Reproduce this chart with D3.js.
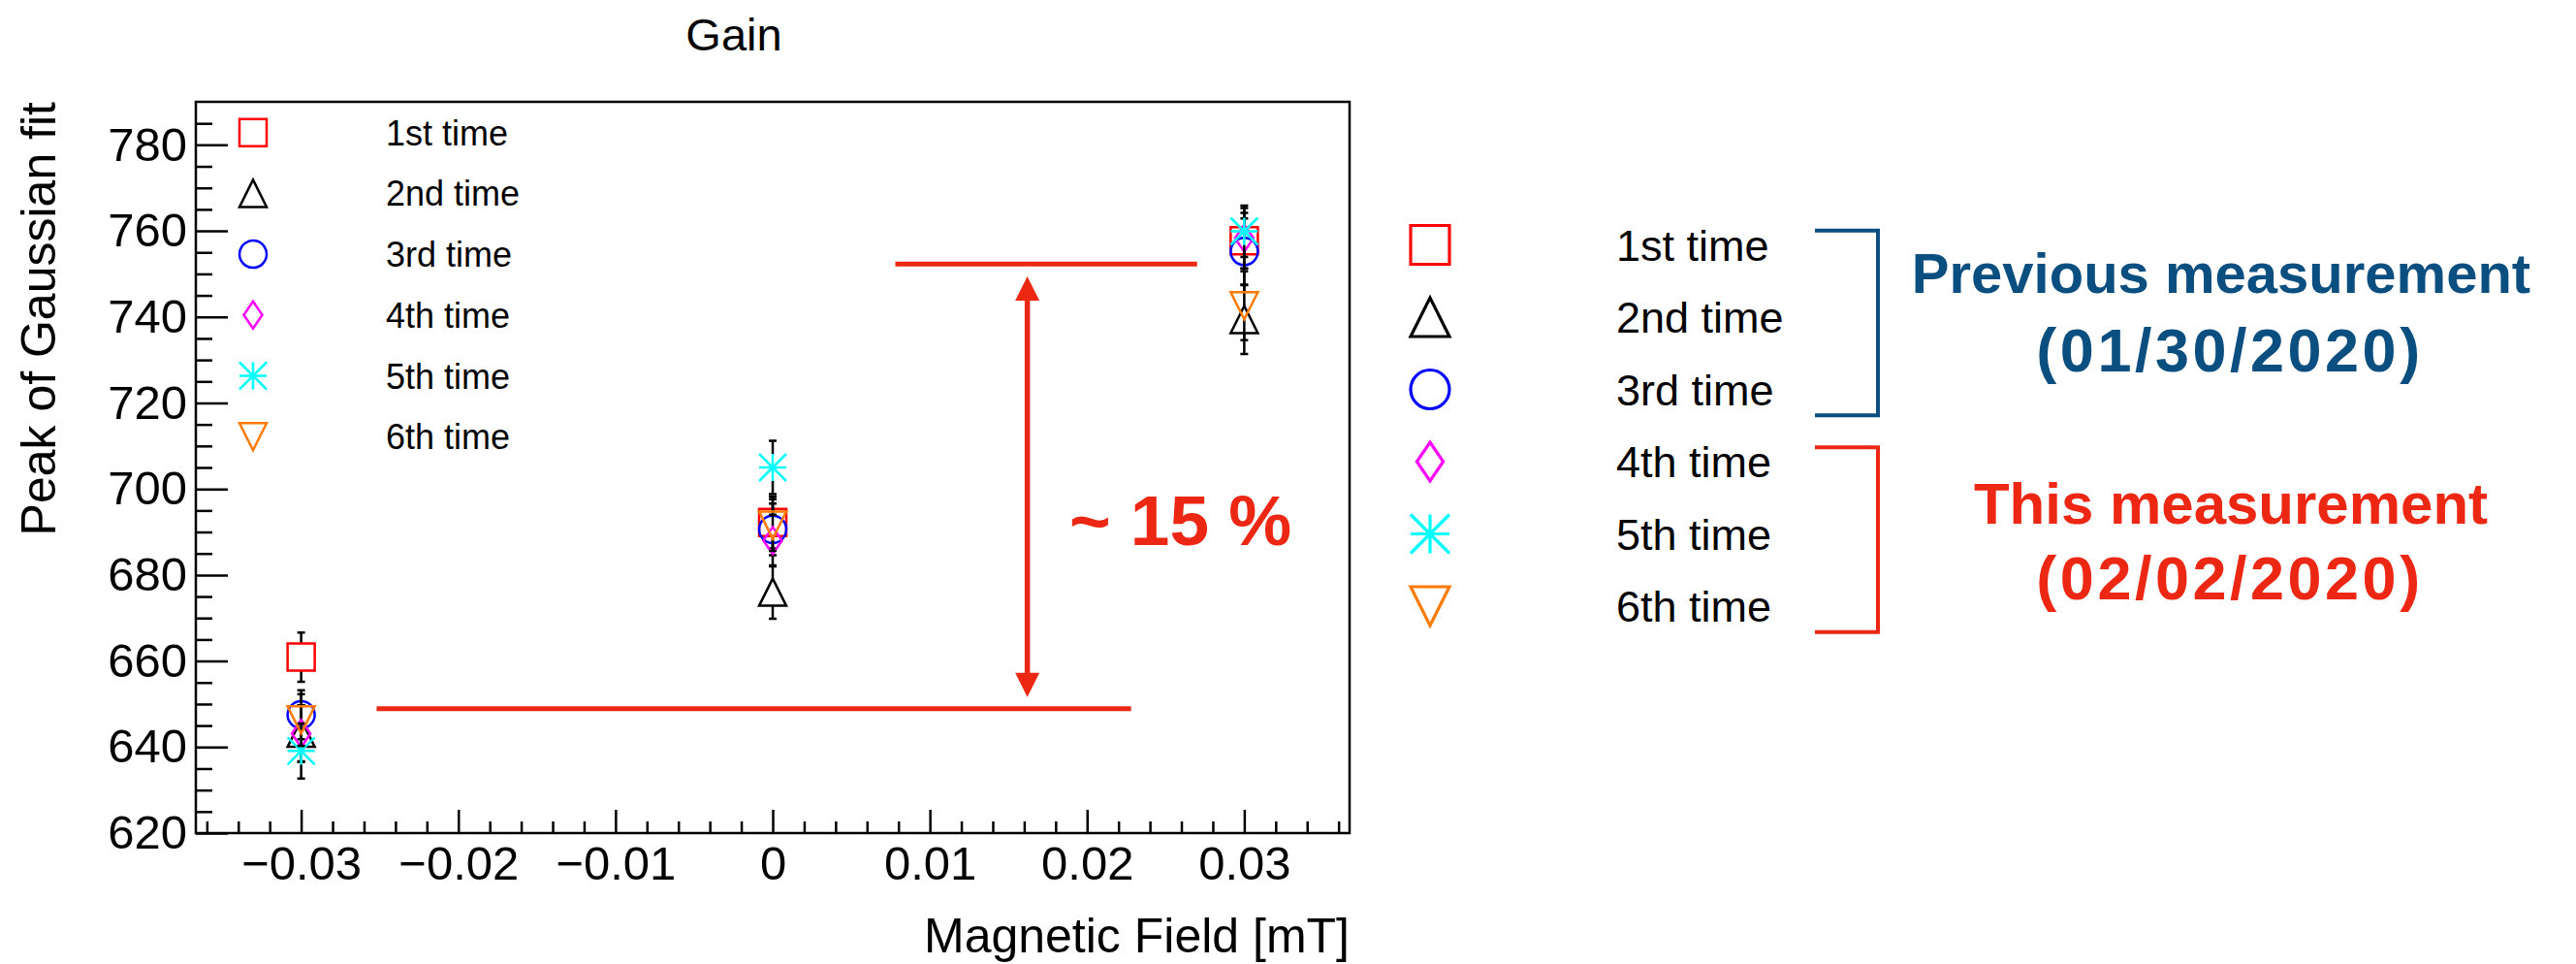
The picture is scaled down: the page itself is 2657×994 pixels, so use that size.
<!DOCTYPE html>
<html>
<head>
<meta charset="utf-8">
<script src="https://cdn.jsdelivr.net/npm/d3@7"></script>
<style>
  body { margin: 0; background: #fff; }
  svg { display: block; background: #fff; font-family: 'Liberation Sans', Arial, Helvetica, sans-serif; }
</style>
</head>
<body>
<svg id="chart"></svg>
<script>
// Peak of gaussian fit vs magnetic field, six repeated runs
const fieldValues = [-0.03, 0, 0.03];
const runLabels = ['1st time', '2nd time', '3rd time', '4th time', '5th time', '6th time'];
const runColors = ['#ff0000', '#000000', '#0000ff', '#ff00ff', '#00ffff', '#ff7a00'];
const runShapes = ['square', 'triangleUp', 'circle', 'diamond', 'star', 'triangleDown'];
const peakValues = [
    [660.9, 692.2, 757.7],
    [643.2, 676.0, 739.4],
    [647.5, 690.6, 755.2],
    [643.1, 688.0, 758.3],
    [639.1, 705.0, 759.9],
    [646.3, 691.6, 742.6]
];
const peakErrors = [
    [5.7, 6.0, 6.5],
    [6.5, 6.2, 8.0],
    [5.7, 6.0, 7.7],
    [6.6, 6.0, 7.0],
    [6.4, 6.2, 6.0],
    [6.0, 6.0, 8.0]
];
const xMajorTicks = [-0.03, -0.02, -0.01, 0, 0.01, 0.02, 0.03];
const yMajorTicks = [620, 640, 660, 680, 700, 720, 740, 760, 780];
const xDomain = [-0.0367, 0.0367];
const yDomain = [620, 790];

// annotation: spread between the two field ends
const spreadLabel = '~ 15 %';
const spreadLow = {value: 648.9, from: -0.0252, to: 0.0228};
const spreadHigh = {value: 752.3, from: 0.0078, to: 0.0270};
const spreadArrow = {field: 0.0162, top: 749.4, bottom: 651.6};

// grouping of runs on the right
const groupNames = [['Previous measurement', '(01/30/2020)'], ['This measurement', '(02/02/2020)']];
const groupRuns = [[0, 2], [3, 5]];
const groupColors = ['#0b4e80', '#ec2814'];

class GainChart {

    constructor(_config) {
        this.config = {
            parentElement: _config.parentElement,
            containerWidth: 2657,
            containerHeight: 994,
            frame: {left: 202, top: 105, right: 1392, bottom: 859}
        };
        this.initVis();
    }

    initVis() {
        let vis = this;
        const f = vis.config.frame;

        vis.svg = d3.select(vis.config.parentElement)
            .attr('width', vis.config.containerWidth)
            .attr('height', vis.config.containerHeight);

        vis.xScale = d3.scaleLinear().domain(xDomain).range([f.left, f.right]);
        vis.yScale = d3.scaleLinear().domain(yDomain).range([f.bottom, f.top]);

        vis.xMinor = d3.range(-18, 19).map(i => i * 0.002).filter(v => Math.abs(v * 100 - Math.round(v * 100)) > 1e-6);
        vis.yMinor = d3.range(620, 790, 5).filter(v => v % 20 !== 0);

        vis.renderVis();
    }

    markerPath(shape, r) {
        switch (shape) {
            case 'square':
                return `M${-r},${-r}H${r}V${r}H${-r}Z`;
            case 'triangleUp':
                return `M${-r},${r}H${r}L0,${-r}Z`;
            case 'triangleDown':
                return `M${-r},${-r}H${r}L0,${r}Z`;
            case 'circle':
                return `M${-r},0A${r},${r} 0 1,0 ${r},0A${r},${r} 0 1,0 ${-r},0Z`;
            case 'diamond':
                return `M0,${-r}L${r * 0.68},0L0,${r}L${-r * 0.68},0Z`;
            case 'star':
                return `M${-r},0H${r}M0,${-r}V${r}M${-r},${-r}L${r},${r}M${-r},${r}L${r},${-r}`;
        }
    }

    renderVis() {
        let vis = this;
        const f = vis.config.frame;

        // axes with ticks pointing into the frame
        vis.svg.append('g')
            .attr('transform', `translate(${f.left},0)`)
            .call(d3.axisLeft(vis.yScale).tickValues(vis.yMinor).tickSizeInner(-17).tickSizeOuter(0).tickFormat(''))
            .call(g => g.select('.domain').remove())
            .call(g => g.selectAll('line').attr('stroke-width', 2.5));

        vis.svg.append('g')
            .attr('transform', `translate(${f.left},0)`)
            .call(d3.axisLeft(vis.yScale).tickValues(yMajorTicks).tickSizeInner(-33).tickSizeOuter(0).tickPadding(9))
            .call(g => g.select('.domain').remove())
            .call(g => g.selectAll('line').attr('stroke-width', 2.5))
            .call(g => g.selectAll('text').attr('font-size', 49).attr('font-family', null).attr('fill', '#000'));

        vis.svg.append('g')
            .attr('transform', `translate(0,${f.bottom})`)
            .call(d3.axisBottom(vis.xScale).tickValues(vis.xMinor).tickSizeInner(-12).tickSizeOuter(0).tickFormat(''))
            .call(g => g.select('.domain').remove())
            .call(g => g.selectAll('line').attr('stroke-width', 2.5));

        vis.svg.append('g')
            .attr('transform', `translate(0,${f.bottom})`)
            .call(d3.axisBottom(vis.xScale).tickValues(xMajorTicks).tickSizeInner(-24).tickSizeOuter(0).tickPadding(13)
                .tickFormat(d => d === 0 ? '0' : d3.format('.2f')(d)))
            .call(g => g.select('.domain').remove())
            .call(g => g.selectAll('line').attr('stroke-width', 2.5))
            .call(g => g.selectAll('text').attr('font-size', 49).attr('font-family', null).attr('fill', '#000'));

        vis.svg.append('rect')
            .attr('x', f.left).attr('y', f.top)
            .attr('width', f.right - f.left).attr('height', f.bottom - f.top)
            .attr('fill', 'none').attr('stroke', '#000').attr('stroke-width', 2.5);

        // titles
        vis.svg.append('text')
            .attr('x', 757).attr('y', 52)
            .attr('text-anchor', 'middle').attr('font-size', 47)
            .text('Gain');
        vis.svg.append('text')
            .attr('transform', `translate(57,${f.top}) rotate(-90)`)
            .attr('text-anchor', 'end').attr('font-size', 50)
            .text('Peak of Gaussian fit');
        vis.svg.append('text')
            .attr('x', f.right).attr('y', 982)
            .attr('text-anchor', 'end').attr('font-size', 50)
            .text('Magnetic Field [mT]');

        // annotation lines and arrow
        const red = groupColors[1];
        [spreadLow, spreadHigh].forEach(s => {
            vis.svg.append('line')
                .attr('x1', vis.xScale(s.from)).attr('x2', vis.xScale(s.to))
                .attr('y1', vis.yScale(s.value)).attr('y2', vis.yScale(s.value))
                .attr('stroke', red).attr('stroke-width', 5);
        });
        const ax = vis.xScale(spreadArrow.field);
        const aTop = vis.yScale(spreadArrow.top);
        const aBot = vis.yScale(spreadArrow.bottom);
        const head = 25;
        vis.svg.append('line')
            .attr('x1', ax).attr('x2', ax)
            .attr('y1', aTop + head - 2).attr('y2', aBot - head + 2)
            .attr('stroke', red).attr('stroke-width', 5.5);
        vis.svg.append('path')
            .attr('d', `M${ax},${aTop}L${ax + 12.5},${aTop + head}H${ax - 12.5}Z M${ax},${aBot}L${ax + 12.5},${aBot - head}H${ax - 12.5}Z`)
            .attr('fill', red);
        vis.svg.append('text')
            .attr('x', vis.xScale(0.01887)).attr('y', vis.yScale(687.0))
            .attr('font-size', 73).attr('font-weight', 'bold').attr('fill', red)
            .text(spreadLabel);

        // error bars (outside markers) and markers, one run at a time
        const mr = 14;
        const cap = 4;
        runLabels.forEach((label, i) => {
            const pts = fieldValues.map((fv, j) => ({x: vis.xScale(fv), y: vis.yScale(peakValues[i][j]),
                hi: vis.yScale(peakValues[i][j] + peakErrors[i][j]), lo: vis.yScale(peakValues[i][j] - peakErrors[i][j])}));
            const g = vis.svg.append('g').attr('class', `run run-${i}`);
            g.selectAll('.err').data(pts).join('path')
                .attr('class', 'err')
                .attr('d', d => {
                    let p = `M${d.x - cap},${d.hi}H${d.x + cap}M${d.x - cap},${d.lo}H${d.x + cap}`;
                    if (d.y - mr > d.hi) p += `M${d.x},${d.hi}V${d.y - mr}`;
                    if (d.y + mr < d.lo) p += `M${d.x},${d.y + mr}V${d.lo}`;
                    return p;
                })
                .attr('fill', 'none').attr('stroke', '#000').attr('stroke-width', 2.5);
            g.selectAll('.mark').data(pts).join('path')
                .attr('class', 'mark')
                .attr('transform', d => `translate(${d.x},${d.y})`)
                .attr('d', vis.markerPath(runShapes[i], mr))
                .attr('fill', 'none').attr('stroke', runColors[i]).attr('stroke-width', 2.5);
        });

        // legend inside the frame
        const leg = vis.svg.append('g').selectAll('g').data(runLabels).join('g')
            .attr('transform', (d, i) => `translate(261,${136.7 + i * 62.7})`);
        leg.append('path')
            .attr('d', (d, i) => vis.markerPath(runShapes[i], mr))
            .attr('fill', 'none').attr('stroke', (d, i) => runColors[i]).attr('stroke-width', 2.5);
        leg.append('text')
            .attr('x', 137).attr('y', 13)
            .attr('font-size', 36)
            .text(d => d);

        // legend on the right, grouped by measurement date
        const rowY = i => 252.5 + i * 74.5;
        const leg2 = vis.svg.append('g').selectAll('g').data(runLabels).join('g')
            .attr('transform', (d, i) => `translate(1475,${rowY(i)})`);
        leg2.append('path')
            .attr('d', (d, i) => vis.markerPath(runShapes[i], 20))
            .attr('fill', 'none').attr('stroke', (d, i) => runColors[i]).attr('stroke-width', 3.2);
        leg2.append('text')
            .attr('x', 192).attr('y', 16)
            .attr('font-size', 45)
            .text(d => d);

        const groupLines = [[301.7, 382.7], [540, 618.3]];
        const groupCenters = [[2291, 2300], [2301, 2300]];
        groupNames.forEach((names, k) => {
            const y0 = rowY(groupRuns[k][0]) - 14.8;
            const y1 = rowY(groupRuns[k][1]) + 26.8;
            vis.svg.append('path')
                .attr('d', `M1872,${y0}H1937V${y1}H1872`)
                .attr('fill', 'none').attr('stroke', groupColors[k]).attr('stroke-width', 4);
            names.forEach((n, l) => {
                vis.svg.append('text')
                    .attr('x', groupCenters[k][l]).attr('y', groupLines[k][l])
                    .attr('text-anchor', 'middle')
                    .attr('font-size', l === 0 ? (k === 0 ? 58 : 60) : 63).attr('font-weight', 'bold')
                    .attr('letter-spacing', l === 0 ? 0 : 3.5)
                    .attr('fill', groupColors[k])
                    .text(n);
            });
        });
    }
}

const chart = new GainChart({parentElement: '#chart'});
</script>
</body>
</html>
